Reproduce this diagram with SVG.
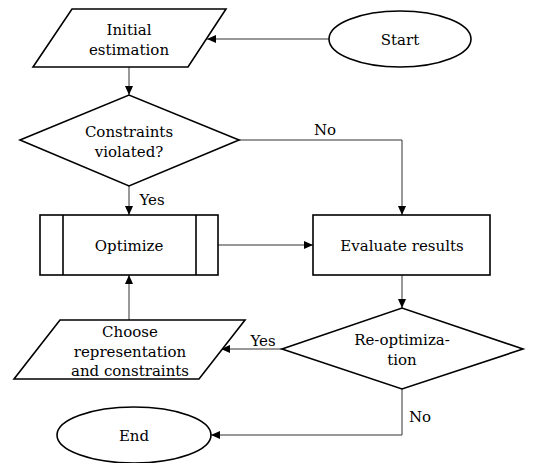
<svg xmlns="http://www.w3.org/2000/svg" width="535" height="463" viewBox="0 0 535 463">
<style>
.s{fill:#fff;stroke:#000;stroke-width:1.6}
.c{fill:none;stroke:#333;stroke-width:1}
text{font-family:'DejaVu Serif','Liberation Serif',serif;font-size:15px;fill:#000;text-anchor:middle}
</style>
<defs>
<marker id="a" markerWidth="10" markerHeight="8" refX="9" refY="4" orient="auto" markerUnits="userSpaceOnUse">
<path d="M0,0 L9,4 L0,8 Z" fill="#000"/>
</marker>
</defs>
<rect width="535" height="463" fill="#fff"/>
<g id="connectors">
<line class="c" x1="329" y1="39" x2="207" y2="39" marker-end="url(#a)"/>
<line class="c" x1="129" y1="67" x2="129" y2="95" marker-end="url(#a)"/>
<polyline class="c" points="239,140 402,140 402,215" marker-end="url(#a)"/>
<text x="325" y="135">No</text>
<line class="c" x1="129" y1="186" x2="129" y2="215" marker-end="url(#a)"/>
<text x="152" y="205">Yes</text>
<line class="c" x1="218" y1="245" x2="313" y2="245" marker-end="url(#a)"/>
<line class="c" x1="402" y1="275" x2="402" y2="308" marker-end="url(#a)"/>
<line class="c" x1="282" y1="349" x2="221" y2="349" marker-end="url(#a)"/>
<text x="263" y="346">Yes</text>
<line class="c" x1="129" y1="320" x2="129" y2="275" marker-end="url(#a)"/>
<polyline class="c" points="402,389 402,435 211,435" marker-end="url(#a)"/>
<text x="420" y="422">No</text>
</g>
<g id="initial">
<polygon class="s" points="72,9 226,9 188,67 33,67"/>
<text x="129" y="35">Initial</text>
<text x="129" y="55">estimation</text>
</g>
<g id="start">
<ellipse class="s" cx="400" cy="39" rx="71" ry="28"/>
<text x="400" y="45">Start</text>
</g>
<g id="constraints">
<polygon class="s" points="20,140 129,95 239,140 129,186"/>
<text x="129" y="137">Constraints</text>
<text x="129" y="157">violated?</text>
</g>
<g id="optimize">
<rect class="s" x="40" y="215" width="178" height="60"/>
<line class="s" x1="63" y1="215" x2="63" y2="275"/>
<line class="s" x1="196" y1="215" x2="196" y2="275"/>
<text x="129" y="251">Optimize</text>
</g>
<g id="evaluate">
<rect class="s" x="313" y="215" width="177" height="60"/>
<text x="402" y="251">Evaluate results</text>
</g>
<g id="reopt">
<polygon class="s" points="282,349 402,308 523,349 402,389"/>
<text x="402" y="345">Re-optimiza-</text>
<text x="402" y="365">tion</text>
</g>
<g id="choose">
<polygon class="s" points="60,320 245,320 199,379 14,379"/>
<text x="130" y="337">Choose</text>
<text x="130" y="357">representation</text>
<text x="130" y="376">and constraints</text>
</g>
<g id="end">
<ellipse class="s" cx="134" cy="435" rx="77" ry="28"/>
<text x="134" y="441">End</text>
</g>
</svg>
